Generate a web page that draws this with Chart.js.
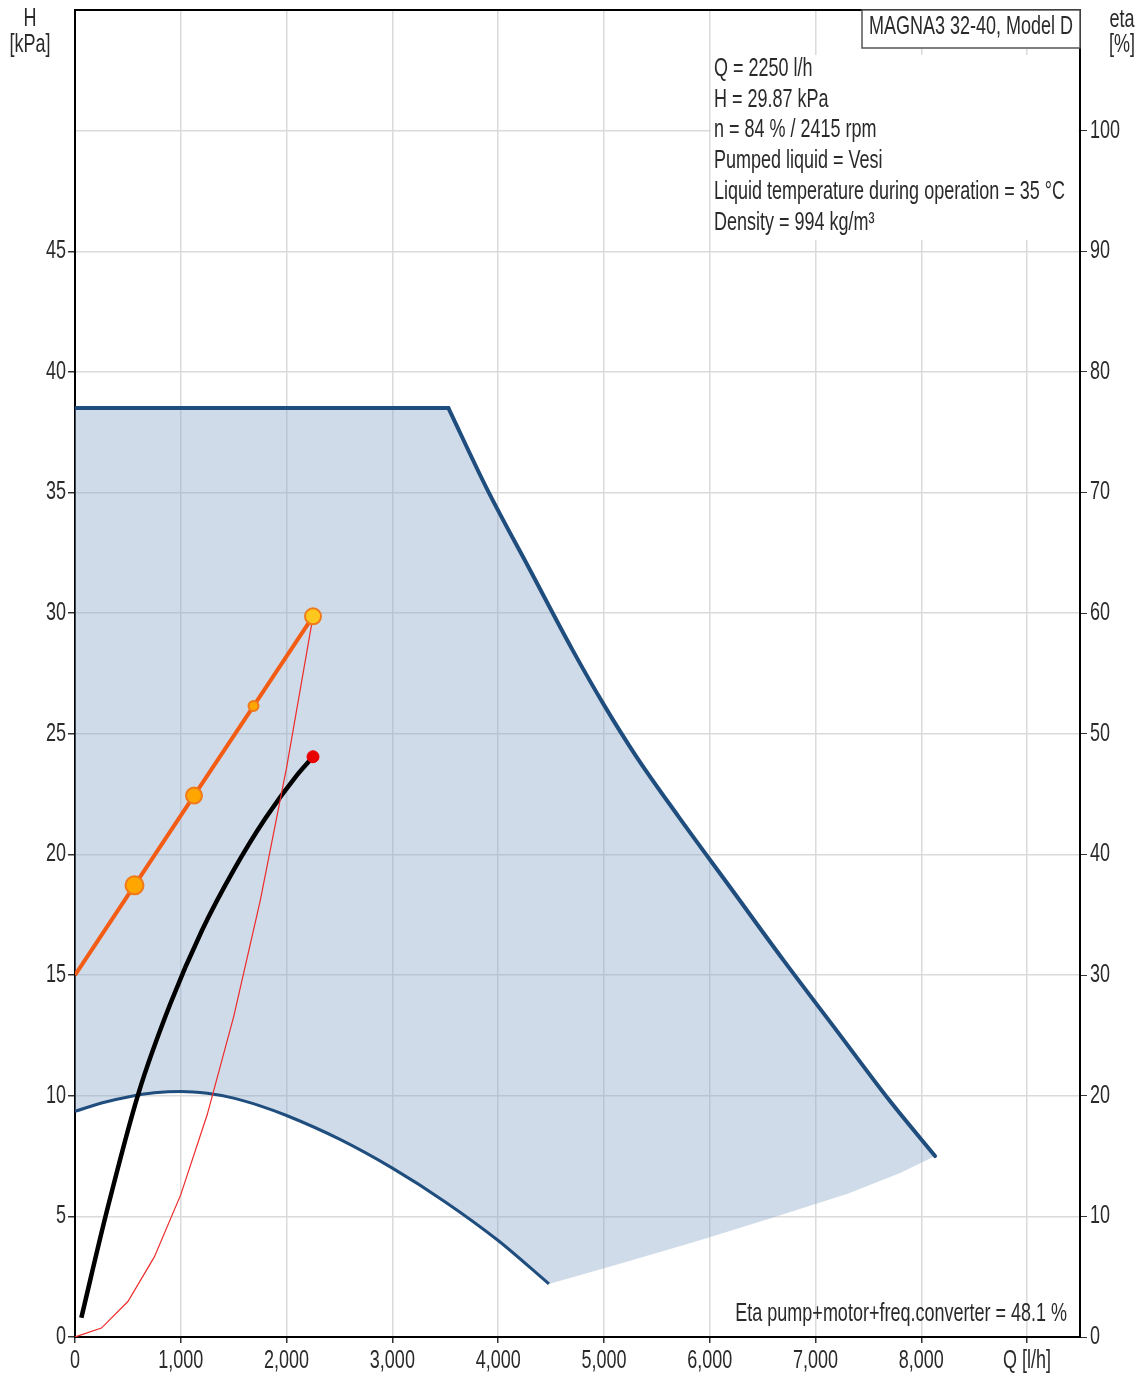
<!DOCTYPE html>
<html><head><meta charset="utf-8">
<script src="https://cdn.jsdelivr.net/npm/chart.js@4.4.1/dist/chart.umd.min.js"></script>
<style>html,body{margin:0;padding:0;background:#fff;} #wrap{width:1145px;height:1380px;position:relative}</style>
</head><body><div id="wrap"><canvas id="c" width="1145" height="1380"></canvas></div>
<script>
// ---- data ----
const upperQ=[0,3530,3900,4300,4700,5000,5300,5700,6200,6700,7200,7700,8130];
const upperH=[38.5,38.5,35.1,31.8,28.5,26.2,24.1,21.6,18.6,15.6,12.7,9.8,7.5];
const lowerQ=[0,250,500,750,1000,1250,1500,1750,2000,2500,3000,3500,4000,4480];
const lowerH=[9.35,9.7,9.95,10.12,10.18,10.1,9.9,9.58,9.18,8.2,7.0,5.6,4.0,2.2];
const edgeQ=[8130,7800,7310,6600,5900,5200,4480];
const edgeH=[7.5,6.8,5.95,4.95,4.0,3.1,2.2];
const controlQ=[0,562.5,1125,1687.5,2250];
const controlH=[15,18.72,22.44,26.15,29.87];
const controlMarkerR=[0,9,8,5,8];
const etaQ=[60,300,600,900,1200,1500,1800,2100,2250];
const etaVal=[1.6,10.4,20.2,27.6,33.7,38.7,43,46.6,48.1];
const systemQ=[0,250,500,750,1000,1250,1500,1750,2000,2250];
const systemH=[0,0.37,1.47,3.32,5.9,9.22,13.28,18.07,23.6,29.87];
const xTickValues=[0,1000,2000,3000,4000,5000,6000,7000,8000,9000];
const xTickLabels=['0','1,000','2,000','3,000','4,000','5,000','6,000','7,000','8,000','Q [l/h]'];
const hTickLabels=['0','5','10','15','20','25','30','35','40','45'];
const etaTickLabels=['0','10','20','30','40','50','60','70','80','90','100'];
const titleText='MAGNA3 32-40, Model D';
const infoLines=['Q = 2250 l/h','H = 29.87 kPa','n = 84 % / 2415 rpm','Pumped liquid = Vesi','Liquid temperature during operation = 35 °C','Density = 994 kg/m³'];
const etaText='Eta pump+motor+freq.converter = 48.1 %';

const FONT="'Liberation Sans',Arial,sans-serif";
const FS=25, K=0.72;
const TXT='#2a2a2a';
const pts=(xs,ys)=>xs.map((x,i)=>({x:x,y:ys[i]}));

const polygon=[...pts(upperQ,upperH),...pts(edgeQ,edgeH).slice(1),...pts(lowerQ,lowerH).reverse().slice(1)];
const flatN=2; // first two upper points form the flat top

function txt(ctx,s,x,y,align){
  ctx.save();ctx.translate(x,y);ctx.scale(K,1);ctx.textAlign=align;ctx.fillText(s,0,0);ctx.restore();
}

const decor={id:'decor',
  beforeDatasetsDraw(chart){
    const ctx=chart.ctx;ctx.save();
    ctx.fillStyle='#fff';ctx.fillRect(711,55,367,185);
    ctx.restore();
  },
  afterDraw(chart){
    const ctx=chart.ctx,a=chart.chartArea;ctx.save();
    ctx.strokeStyle='#000';ctx.lineWidth=2;
    ctx.beginPath();ctx.moveTo(a.left-1,a.top);ctx.lineTo(a.right+1,a.top);ctx.stroke();
    ctx.fillStyle=TXT;ctx.font=FS+'px '+FONT;ctx.textBaseline='middle';
    const sx=chart.scales.x, sy=chart.scales.y, sy2=chart.scales.y2;
    sx.ticks.forEach((t,i)=>{const l=xTickLabels[i];if(l)txt(ctx,l,sx.getPixelForValue(t.value),1361,'center');});
    sy.ticks.forEach(t=>{const l=hTickLabels[Math.round(t.value/5)];if(l)txt(ctx,l,66,sy.getPixelForValue(t.value),'right');});
    sy2.ticks.forEach(t=>{const l=etaTickLabels[Math.round(t.value/10)];if(l)txt(ctx,l,1090,sy2.getPixelForValue(t.value),'left');});
    infoLines.forEach((t,i)=>txt(ctx,t,714,69+i*30.8,'left'));
    ctx.fillStyle='#fff';ctx.fillRect(862,a.top,a.right-862,38);
    ctx.strokeStyle='#555';ctx.lineWidth=1.5;ctx.strokeRect(862,a.top,a.right-862,38);
    ctx.fillStyle=TXT;
    txt(ctx,titleText,(862+a.right)/2,27,'center');
    txt(ctx,'H',30,19,'center');txt(ctx,'[kPa]',30,45,'center');
    txt(ctx,'eta',1122,20,'center');txt(ctx,'[%]',1122,45,'center');
    txt(ctx,etaText,1067,1314,'right');
    ctx.restore();
  }
};

const blue='#1f4d7e';
const NONE='rgba(0,0,0,0)';
const up=pts(upperQ,upperH);
new Chart(document.getElementById('c'),{
  type:'line',
  data:{datasets:[
    {data:pts(controlQ,controlH),borderColor:'#f25c14',borderWidth:4,pointRadius:controlMarkerR,
     pointBackgroundColor:controlQ.map((q,i)=>i===controlQ.length-1?'#ffc81e':'#ffa600'),pointBorderColor:'#f07a1a',pointBorderWidth:2,tension:0,yAxisID:'y'},
    {data:pts(systemQ,systemH),borderColor:'#ee2b2b',borderWidth:1.2,pointRadius:0,tension:0,yAxisID:'y'},
    {data:pts(etaQ,etaVal),borderColor:'#000',borderWidth:4.5,cubicInterpolationMode:'monotone',
     pointRadius:etaQ.map((q,i)=>i===etaQ.length-1?6:0),pointBackgroundColor:'#e80000',pointBorderColor:'#e80000',pointBorderWidth:1,yAxisID:'y2'},
    {data:up.slice(0,flatN),borderColor:blue,borderWidth:4,pointRadius:0,tension:0,borderCapStyle:'round',yAxisID:'y'},
    {data:up.slice(flatN-1),borderColor:blue,borderWidth:4,pointRadius:0,cubicInterpolationMode:'monotone',borderCapStyle:'round',yAxisID:'y'},
    {data:pts(lowerQ,lowerH),borderColor:blue,borderWidth:3,pointRadius:0,cubicInterpolationMode:'monotone',yAxisID:'y'},
    {data:polygon,borderWidth:0,borderColor:NONE,backgroundColor:'rgba(140,170,200,0.42)',fill:'shape',pointRadius:0,tension:0,yAxisID:'y'}
  ]},
  options:{
    responsive:false,animation:false,
    layout:{padding:{top:8,left:0,right:0,bottom:0}},
    plugins:{legend:{display:false},tooltip:{enabled:false}},
    scales:{
      x:{type:'linear',min:0,max:9500,
        afterBuildTicks(s){s.ticks=xTickValues.map(v=>({value:v}));},
        afterFit(s){s.height=43;s.paddingLeft=0;s.paddingRight=0;},
        border:{display:true,color:'#000',width:2},
        grid:{color:'#dadada',lineWidth:1.5,tickLength:6,tickColor:'#333'},
        ticks:{autoSkip:false,maxRotation:0,padding:2,color:NONE,font:{family:FONT,size:FS},
          callback:(v,i)=>xTickLabels[i]??''}},
      y:{type:'linear',position:'left',min:0,max:55,
        afterFit(s){s.width=75;s.paddingTop=0;s.paddingBottom=0;},
        border:{display:true,color:'#000',width:2},
        grid:{color:'#dadada',lineWidth:1.5,tickLength:7,tickColor:(c)=>c.tick&&c.tick.value>45?NONE:'#333'},
        ticks:{stepSize:5,autoSkip:false,padding:3,color:NONE,font:{family:FONT,size:FS},
          callback:(v)=>hTickLabels[Math.round(v/5)]??''}},
      y2:{type:'linear',position:'right',min:0,max:110,
        afterFit(s){s.width=65;s.paddingTop=0;s.paddingBottom=0;},
        border:{display:true,color:'#000',width:2},
        grid:{drawOnChartArea:false,tickLength:7,tickColor:(c)=>c.tick&&c.tick.value>100?NONE:'#333'},
        ticks:{stepSize:10,autoSkip:false,padding:3,color:NONE,font:{family:FONT,size:FS},
          callback:(v)=>etaTickLabels[Math.round(v/10)]??''}}
    }
  },
  plugins:[decor]
});
</script></body></html>
